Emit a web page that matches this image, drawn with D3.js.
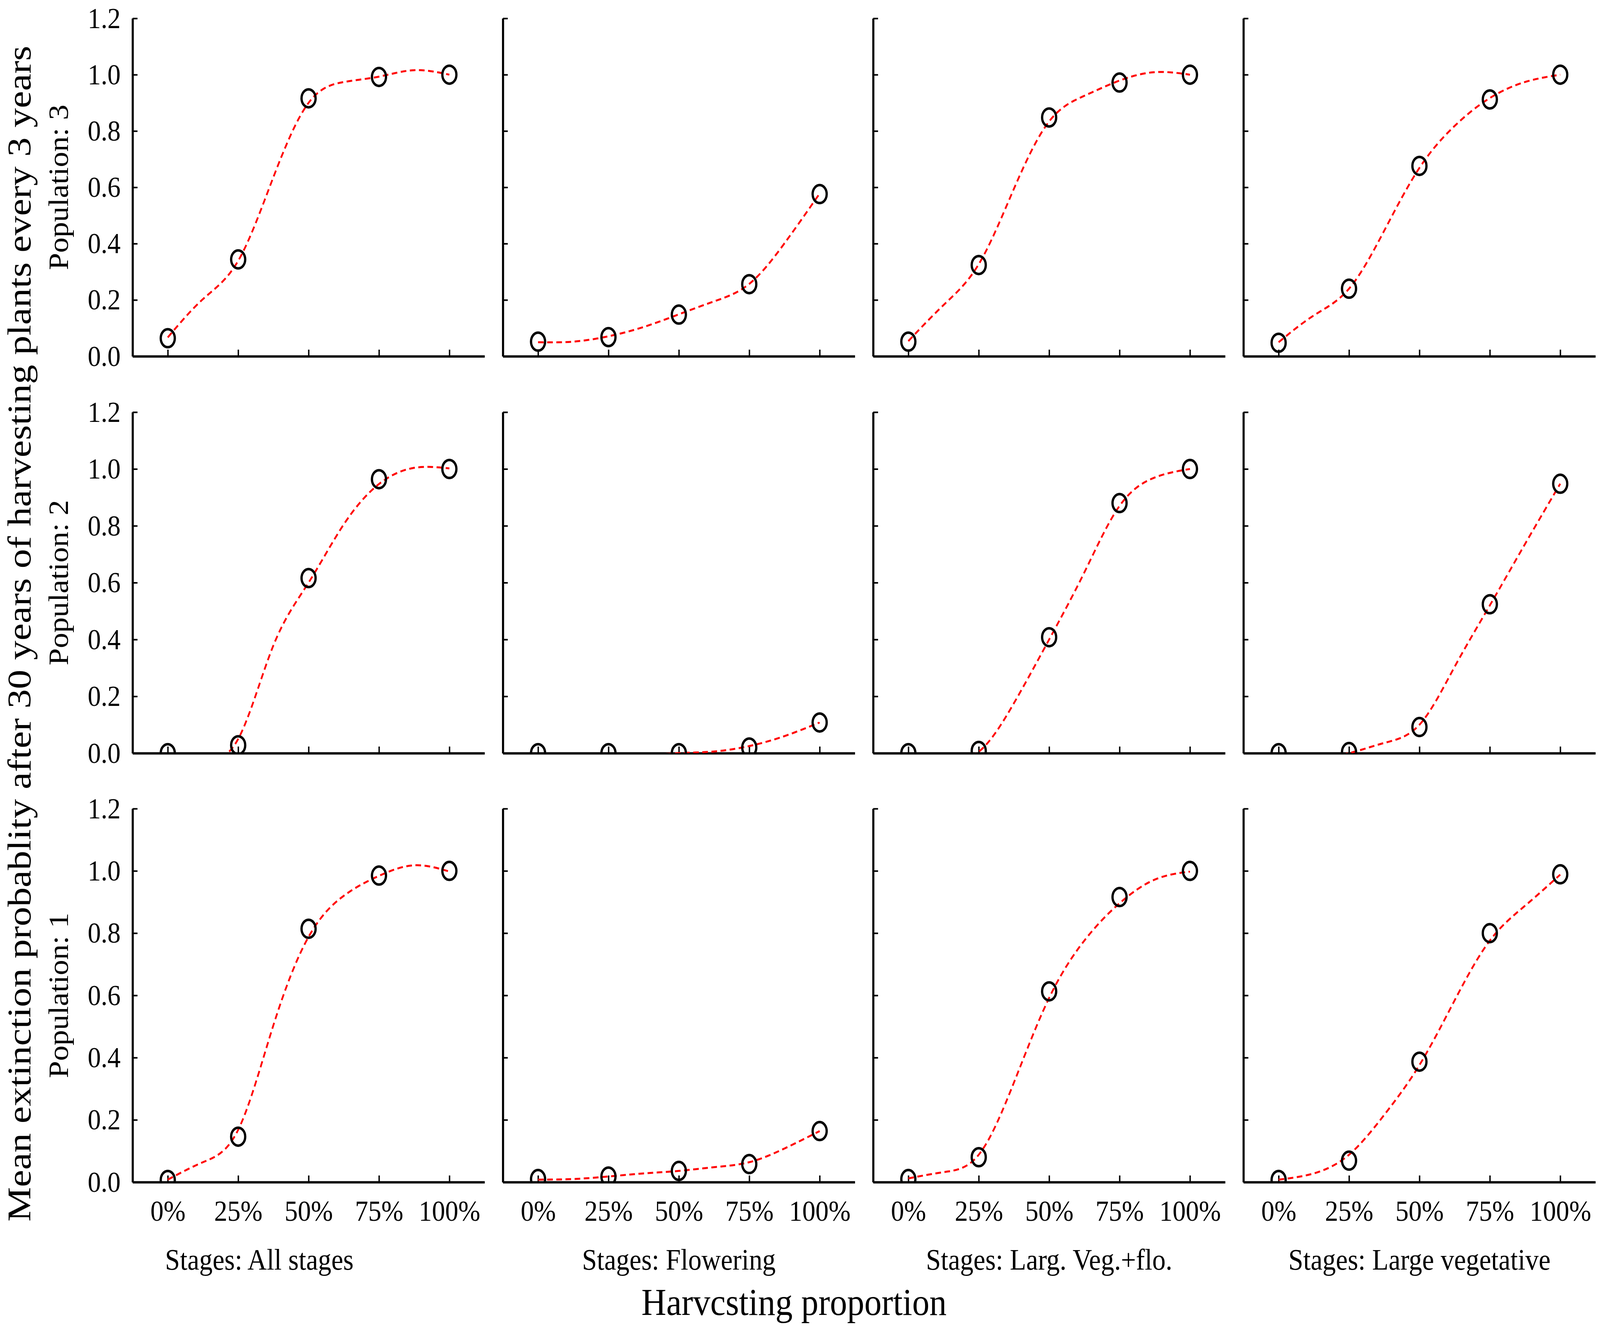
<!DOCTYPE html>
<meta charset="utf-8">
<style>
html, body { margin: 0; padding: 0; background: #fff; overflow: hidden; }
svg { display: block; width: 100vw; height: 100vh; }
text { font-family: "Liberation Serif", "Times New Roman", serif; fill: #000; }
</style>
<svg viewBox="0 0 4550 3402" preserveAspectRatio="none"></svg>
<script src="https://d3js.org/d3.v7.min.js"></script>
<script>

// harvest levels and labels
var harvest = [0, 25, 50, 75, 100];
var xTickLabels = ["0%", "25%", "50%", "75%", "100%"];
var yTicks = [0, 0.2, 0.4, 0.6, 0.8, 1.0, 1.2];
var stages = ["All stages", "Flowering", "Larg. Veg.+flo.", "Large vegetative"];
var populations = ["3", "2", "1"];

// mean extinction probability (circles)
var pop3All = [0.064, 0.344, 0.916, 0.992, 1.0];
var pop3Flo = [0.052, 0.068, 0.148, 0.256, 0.576];
var pop3LVF = [0.052, 0.324, 0.848, 0.972, 1.0];
var pop3LV  = [0.048, 0.240, 0.676, 0.912, 1.0];

var pop2All = [0.0, 0.028, 0.616, 0.964, 1.0];
var pop2Flo = [0.0, 0.0, 0.0, 0.020, 0.108];
var pop2LVF = [0.0, 0.008, 0.408, 0.880, 1.0];
var pop2LV  = [0.0, 0.004, 0.092, 0.524, 0.948];

var pop1All = [0.007, 0.146, 0.814, 0.985, 1.0];
var pop1Flo = [0.010, 0.018, 0.036, 0.058, 0.164];
var pop1LVF = [0.010, 0.080, 0.613, 0.916, 1.0];
var pop1LV  = [0.007, 0.069, 0.387, 0.800, 0.989];

// fitted (dashed) curve, every 12.5%
var fitX = [0, 12.5, 25, 37.5, 50, 62.5, 75, 87.5, 100];

var fit3All = [0.067, 0.203, 0.339, 0.636, 0.900, 0.974, 0.993, 1.016, 1.0];
var fit3Flo = [0.050, 0.052, 0.071, 0.104, 0.149, 0.195, 0.257, 0.401, 0.578];
var fit3LVF = [0.054, 0.182, 0.327, 0.595, 0.834, 0.925, 0.979, 1.009, 1.0];
var fit3LV  = [0.050, 0.145, 0.240, 0.446, 0.669, 0.818, 0.917, 0.974, 1.0];

var fit2All = [-0.05, -0.03, 0.050, 0.379, 0.600, 0.805, 0.947, 1.004, 1.002];
var fit2Flo = [-0.01, -0.02, -0.02, -0.01, 0.0, 0.006, 0.025, 0.060, 0.108];
var fit2LVF = [-0.05, -0.03, 0.005, 0.176, 0.400, 0.636, 0.870, 0.970, 1.0];
var fit2LV  = [-0.03, -0.02, 0.0, 0.036, 0.100, 0.304, 0.520, 0.736, 0.948];

var fit1All = [0.008, 0.064, 0.168, 0.504, 0.788, 0.920, 0.984, 1.018, 0.998];
var fit1Flo = [0.008, 0.010, 0.018, 0.028, 0.036, 0.048, 0.064, 0.108, 0.164];
var fit1LVF = [0.012, 0.032, 0.088, 0.320, 0.592, 0.776, 0.896, 0.972, 0.998];
var fit1LV  = [0.008, 0.028, 0.088, 0.216, 0.376, 0.584, 0.776, 0.888, 0.988];

var values = [
  [pop3All, pop3Flo, pop3LVF, pop3LV],
  [pop2All, pop2Flo, pop2LVF, pop2LV],
  [pop1All, pop1Flo, pop1LVF, pop1LV]
];
var fits = [
  [fit3All, fit3Flo, fit3LVF, fit3LV],
  [fit2All, fit2Flo, fit2LVF, fit2LV],
  [fit1All, fit1Flo, fit1LVF, fit1LV]
];

var svg = d3.select("svg");

// panel layout
var colLeft0 = 377, colStep = 1053, colWidth = 1001;
var rows = [
  {top: 47, bottom: 912},
  {top: 1055, bottom: 1928},
  {top: 2070, bottom: 3026}
];

var line = d3.line().curve(d3.curveNatural);

rows.forEach(function(row, r) {
  var y = d3.scaleLinear().domain([0, 1.2]).range([row.bottom, row.top]);

  // population label
  svg.append("text")
    .attr("transform", "translate(193," + ((row.top + row.bottom) / 2) + ") rotate(-90)")
    .attr("text-anchor", "middle")
    .attr("font-size", 79)
    .text("Population: " + populations[r]);

  stages.forEach(function(stage, c) {
    var left = colLeft0 + c * colStep;
    var x = d3.scaleLinear().domain([-12.5, 112.5]).range([left, left + colWidth]);
    var id = "clip" + r + c;

    svg.append("clipPath").attr("id", id)
      .append("rect")
        .attr("x", left)
        .attr("y", row.top)
        .attr("width", colWidth)
        .attr("height", row.bottom - row.top);

    var g = svg.append("g");

    var yAxis = d3.axisLeft(y)
      .tickValues(yTicks)
      .tickSizeInner(-14)
      .tickSizeOuter(0)
      .tickPadding(34)
      .tickFormat(c === 0 ? d3.format(".1f") : "");

    var ya = g.append("g")
      .attr("transform", "translate(" + left + ",0)")
      .call(yAxis);

    var xAxis = d3.axisBottom(x)
      .tickValues(harvest)
      .tickSizeInner(-17)
      .tickSizeOuter(0)
      .tickPadding(46)
      .tickFormat(function(d, i) { return r === 2 ? xTickLabels[i] : ""; });

    var xa = g.append("g")
      .attr("transform", "translate(0," + row.bottom + ")")
      .call(xAxis);

    [ya, xa].forEach(function(a) {
      a.attr("font-family", null).attr("font-size", 75);
      a.select(".domain").attr("stroke", "#000").attr("stroke-width", 6);
      a.selectAll(".tick line").attr("stroke", "#000").attr("stroke-width", 4);
    });

    var fit = fits[r][c];
    var fitPts = fitX.map(function(h, i) { return [x(h), y(fit[i])]; });

    g.append("path")
      .attr("clip-path", "url(#" + id + ")")
      .attr("d", line(fitPts))
      .attr("fill", "none")
      .attr("stroke", "#ff0000")
      .attr("stroke-width", 5)
      .attr("stroke-dasharray", "16,10");

    var data = values[r][c];
    var pts = harvest.map(function(h, i) { return [x(h), y(data[i])]; });

    g.append("g")
      .attr("clip-path", "url(#" + id + ")")
      .selectAll("ellipse")
      .data(pts)
      .enter().append("ellipse")
        .attr("cx", function(d) { return d[0]; })
        .attr("cy", function(d) { return d[1]; })
        .attr("rx", 20)
        .attr("ry", 23)
        .attr("fill", "none")
        .attr("stroke", "#000")
        .attr("stroke-width", 6.5);

    // stage label under the bottom row
    if (r === 2) {
      var lx = c === 0 ? (left - 280 + left + colWidth) / 2 : left + colWidth / 2;
      svg.append("text")
        .attr("x", lx)
        .attr("y", 3250)
        .attr("text-anchor", "middle")
        .attr("font-size", 76)
        .text("Stages: " + stage);
    }
  });
});

// axis titles
svg.append("text")
  .attr("x", 2258)
  .attr("y", 3366)
  .attr("text-anchor", "middle")
  .attr("font-size", 98)
  .text("Harvcsting proportion");

svg.append("text")
  .attr("transform", "translate(87,1622) rotate(-90)")
  .attr("text-anchor", "middle")
  .attr("font-size", 95)
  .attr("textLength", 3010)
  .attr("lengthAdjust", "spacingAndGlyphs")
  .text("Mean extinction probablity after 30 years of harvesting plants every 3 years");

</script>
